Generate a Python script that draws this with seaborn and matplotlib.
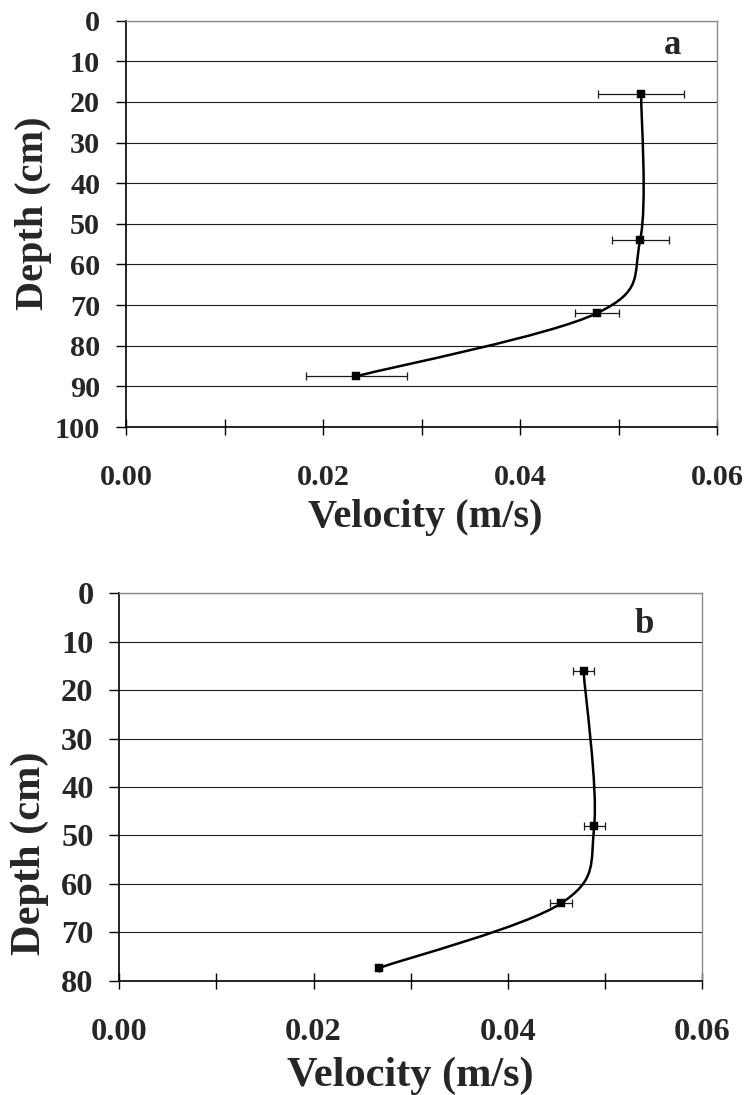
import numpy as np
import pandas as pd
import matplotlib
matplotlib.use("Agg")
import matplotlib.pyplot as plt
import seaborn as sns
from matplotlib.path import Path
from matplotlib.patches import PathPatch

# ---------------- data ----------------
vel_a = [0.0523, 0.0522, 0.0478, 0.0234]
depth_a = [18, 54, 72, 87.5]
err_a = [0.0044, 0.0029, 0.0022, 0.0051]

vel_b = [0.0478, 0.0489, 0.0455, 0.0267]
depth_b = [16, 48, 64, 77.4]
err_b = [0.0011, 0.0011, 0.0011, 0.0]

x_ticks = [0.00, 0.01, 0.02, 0.03, 0.04, 0.05, 0.06]
x_tick_labels = ["0.00", "", "0.02", "", "0.04", "", "0.06"]
y_ticks_a = [0, 10, 20, 30, 40, 50, 60, 70, 80, 90, 100]
y_ticks_b = [0, 10, 20, 30, 40, 50, 60, 70, 80]
panel_labels = ["a", "b"]
x_title = "Velocity (m/s)"
y_title = "Depth (cm)"

# ---------------- style ----------------
sns.set_theme(style="white")
plt.rcParams['font.family'] = ['Liberation Serif', 'DejaVu Serif']
plt.rcParams['font.weight'] = 'bold'


def smooth_path(xs, ys):
    """Excel-like smoothed line: cubic Bezier through the data points."""
    P = np.column_stack([xs, ys]).astype(float)
    n = len(P)
    verts = [tuple(P[0])]
    codes = [Path.MOVETO]
    for i in range(n - 1):
        p_prev = P[i - 1] if i > 0 else P[i]
        p_next2 = P[i + 2] if i + 2 < n else P[i + 1]
        c1 = P[i] + (P[i + 1] - p_prev) / 6.0
        c2 = P[i + 1] - (p_next2 - P[i]) / 6.0
        verts += [tuple(c1), tuple(c2), tuple(P[i + 1])]
        codes += [Path.CURVE4] * 3
    return Path(verts, codes)


def draw_panel(ax, vel, depth, err, yticks, label, tick_fs, title_fs,
               ylab_coords, xlab_coords, label_xy):
    df = pd.DataFrame({"vel": vel, "depth": depth, "err": err})
    ax.set_xlim(0, 0.06)
    ax.set_ylim(yticks[-1], 0)
    ax.set_xticks(x_ticks)
    ax.set_xticklabels(x_tick_labels)
    ax.set_yticks(yticks)
    ax.set_yticklabels([str(t) for t in yticks])

    ax.yaxis.grid(True, color='#1e1e1e', linewidth=0.8)
    ax.xaxis.grid(False)
    ax.set_axisbelow(True)

    # smoothed line
    patch = PathPatch(smooth_path(df["vel"], df["depth"]), facecolor='none',
                      edgecolor='black', linewidth=1.8, zorder=3,
                      capstyle='round', joinstyle='round')
    ax.add_patch(patch)

    # error bars
    ax.errorbar(df["vel"], df["depth"], xerr=df["err"], fmt='none',
                ecolor='#1a1a1a', elinewidth=0.9, capsize=2.8,
                capthick=0.9, zorder=3)

    # markers
    sns.scatterplot(data=df, x="vel", y="depth", marker='s', s=26,
                    color='black', edgecolor='black', linewidth=0.3,
                    ax=ax, zorder=4, legend=False)

    for side in ['top', 'right']:
        ax.spines[side].set_color('#8a8a8a')
        ax.spines[side].set_linewidth(1.0)
        ax.spines[side].set_visible(True)
    for side in ['left', 'bottom']:
        ax.spines[side].set_color('black')
        ax.spines[side].set_linewidth(1.2)
        ax.spines[side].set_visible(True)

    ax.tick_params(axis='x', direction='inout', length=11, width=1.0,
                   color='black', pad=21, labelsize=tick_fs, bottom=True)
    ax.tick_params(axis='y', direction='out', length=7.5, width=1.0,
                   color='black', pad=11, labelsize=tick_fs, left=True)
    for t in ax.get_xticklabels() + ax.get_yticklabels():
        t.set_fontweight('bold')

    ax.set_xlabel(x_title, fontsize=title_fs, fontweight='bold')
    ax.set_ylabel(y_title, fontsize=title_fs, fontweight='bold')
    ax.xaxis.set_label_coords(*xlab_coords)
    ax.yaxis.set_label_coords(*ylab_coords)

    ax.text(label_xy[0], label_xy[1], label, transform=ax.transAxes,
            ha='center', va='center', fontsize=25, fontweight='bold')


fig = plt.figure(figsize=(7.5, 10.95), dpi=100)
fig.patch.set_facecolor('white')

W, H = 750.0, 1095.0
# top panel: x 126..717, y 20.7..427 (pixels)
ax1 = fig.add_axes([126 / W, 1 - 427 / H, (717 - 126) / W, (427 - 20.7) / H])
# bottom panel: x 119.3..702, y 593.3..980.7
ax2 = fig.add_axes([119.3 / W, 1 - 980.7 / H, (702 - 119.3) / W, (980.7 - 593.3) / H])

draw_panel(ax1, vel_a, depth_a, err_a, y_ticks_a, panel_labels[0],
           tick_fs=21.8, title_fs=29,
           ylab_coords=(-0.125, 0.525), xlab_coords=(0.506, -0.178),
           label_xy=(0.9255, 0.94))
draw_panel(ax2, vel_b, depth_b, err_b, y_ticks_b, panel_labels[1],
           tick_fs=23.3, title_fs=30.5,
           ylab_coords=(-0.12, 0.33), xlab_coords=(0.499, -0.196),
           label_xy=(0.900, 0.92))

fig.savefig("out.png", dpi=100, facecolor='white')
